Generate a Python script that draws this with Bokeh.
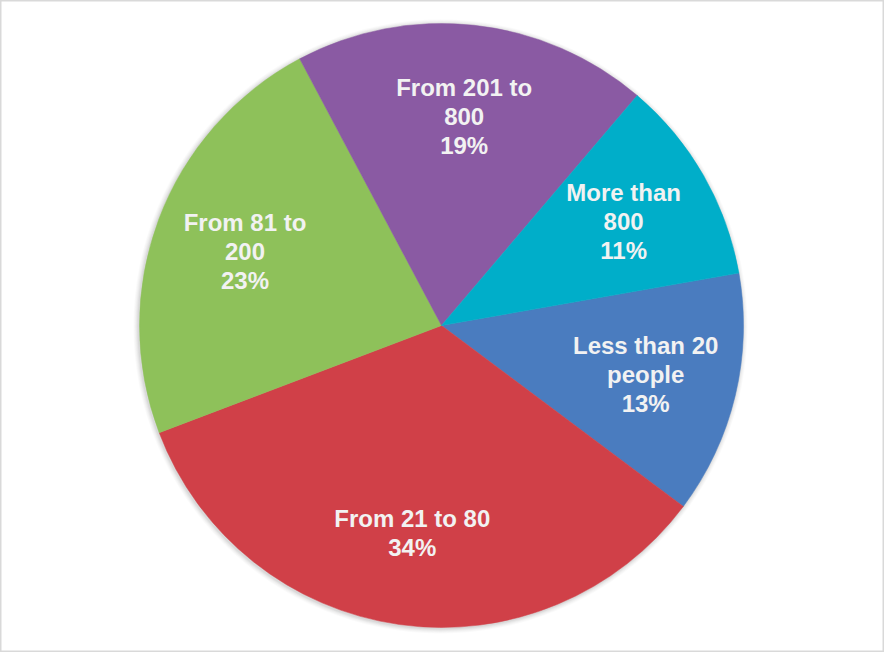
import math
from bokeh.plotting import figure
from bokeh.models import Range1d, ColumnDataSource
from bokeh.core.properties import value
from bokeh.embed import file_html
from bokeh.resources import INLINE

# ---- data (clockwise order) ----
categories = ["Less than 20 people", "From 21 to 80", "From 81 to 200", "From 201 to 800", "More than 800"]
label_lines = [["Less than 20", "people"], ["From 21 to 80"], ["From 81 to", "200"], ["From 201 to", "800"], ["More than", "800"]]
percents = [13, 34, 23, 19, 11]
colors = ["#4A7CBF", "#D04048", "#8EC15A", "#8A5AA3", "#00AEC9"]

W, H = 884, 652
p = figure(width=W, height=H, output_backend="svg", toolbar_location=None,
           x_range=Range1d(0, W), y_range=Range1d(0, H), min_border=0)
p.axis.visible = False
p.grid.visible = False
p.outline_line_color = "#D9D9D9"
p.outline_line_width = 2
p.background_fill_color = "white"
p.border_fill_color = "white"

cx, cy, R = 441, 327, 302
start_deg = 10.0

# soft shadow
for k, a in [(5, 0.04), (4, 0.05), (3, 0.06), (2, 0.08), (1, 0.10)]:
    p.circle(x=[cx - 1], y=[cy - 1], radius=R + k, fill_color="#808080", fill_alpha=a, line_color=None)

total = float(sum(percents))
starts, ends, lx, ly = [], [], [], []
cum = 0.0
for v in percents:
    a_hi = start_deg - 360 * cum / total
    cum += v
    a_lo = start_deg - 360 * cum / total
    starts.append(math.radians(a_lo))
    ends.append(math.radians(a_hi))
    mid = math.radians((a_lo + a_hi) / 2)
    lx.append(cx + 0.695 * R * math.cos(mid))
    ly.append(cy + 0.695 * R * math.sin(mid))

src = ColumnDataSource(dict(x=[cx] * len(percents), y=[cy] * len(percents),
                            start=starts, end=ends, color=colors, cat=categories))
p.wedge(x="x", y="y", radius=R, start_angle="start", end_angle="end", direction="anticlock",
        fill_color="color", line_color="color", line_width=0.5, source=src)

tx, ty, tt = [], [], []
spacing = 29
for i, v in enumerate(percents):
    lines = label_lines[i] + [f"{v}%"]
    n = len(lines)
    for j, t in enumerate(lines):
        tx.append(lx[i])
        ty.append(ly[i] - (j - (n - 1) / 2) * spacing)
        tt.append(t)

p.text(x=tx, y=ty, text=tt, text_align="center", text_baseline="middle",
       text_font=value("Liberation Sans"), text_font_style="bold",
       text_font_size="24px", text_color="#F2F2F2")

open("out.html", "w").write(file_html(p, INLINE))
